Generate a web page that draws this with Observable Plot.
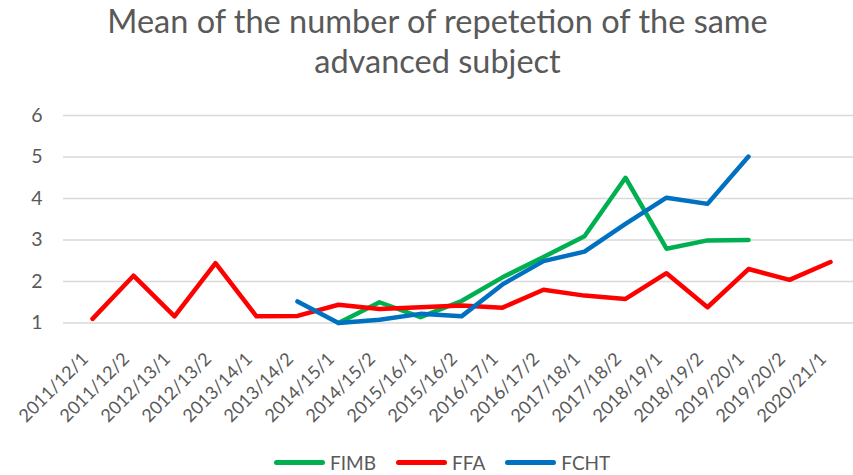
<!DOCTYPE html>
<html>
<head>
<meta charset="utf-8">
<script src="https://cdn.jsdelivr.net/npm/d3@7"></script>
<script src="https://cdn.jsdelivr.net/npm/@observablehq/plot@0.6"></script>
<style>
  html, body { margin: 0; padding: 0; background: #fff; }
  body { width: 853px; height: 475px; overflow: hidden; font-family: Lato, "Open Sans", sans-serif; color: #595959; }
  #title { height: 80px; text-align: center; font-size: 32.5px; line-height: 40px; padding-top: 1px; padding-left: 22px; box-sizing: border-box; }
  #legend { height: 44px; display: flex; align-items: center; padding-left: 274px; font-size: 19px; }
  .item { display: flex; align-items: center; margin-right: 20px; }
  .sw { width: 51px; height: 5px; border-radius: 3px; margin-right: 5px; }
</style>
</head>
<body>
<div id="title">Mean of the number of repetetion of the same<br>advanced subject</div>
<div id="chart"></div>
<div id="legend"></div>
<script>
const categories = ["2011/12/1","2011/12/2","2012/13/1","2012/13/2","2013/14/1","2013/14/2","2014/15/1","2014/15/2","2015/16/1","2015/16/2","2016/17/1","2016/17/2","2017/18/1","2017/18/2","2018/19/1","2018/19/2","2019/20/1","2019/20/2","2020/21/1"];
const FIMB = [null,null,null,null,null,null,1.0,1.50,1.14,1.53,2.10,2.59,3.09,4.50,2.79,2.99,3.00,null,null];
const FFA  = [1.10,2.14,1.16,2.44,1.16,1.17,1.44,1.34,1.38,1.42,1.37,1.80,1.66,1.58,2.20,1.38,2.30,2.04,2.47];
const FCHT = [null,null,null,null,null,1.52,1.00,1.08,1.22,1.16,1.93,2.49,2.72,3.39,4.02,3.87,5.01,null,null];
const yTicks = [1,2,3,4,5,6];
const seriesNames = ["FIMB","FFA","FCHT"];
const seriesColors = ["#00b050","#ff0000","#0070c0"];

const seriesValues = [FIMB, FFA, FCHT];
const rows = [];
seriesNames.forEach((s, i) => {
  categories.forEach((c, j) => {
    const v = seriesValues[i][j];
    if (v != null) rows.push({series: s, cat: c, value: v});
  });
});

const chart = Plot.plot({
  width: 853,
  height: 360,
  marginTop: 35,
  marginBottom: 117.5,
  marginLeft: 63,
  marginRight: 0,
  style: {fontFamily: "Lato, sans-serif", color: "#595959", background: "#fff"},
  x: {type: "point", domain: categories, range: [84, 837], padding: 0, axis: null},
  y: {domain: [1, 6], axis: null},
  color: {domain: seriesNames, range: seriesColors},
  marks: [
    Plot.ruleY(yTicks, {stroke: "#d9d9d9", strokeWidth: 1.5}),
    Plot.axisY(yTicks, {tickSize: 0, tickPadding: 21, fontSize: 19.5, fill: "#595959", label: null}),
    Plot.text(categories, {x: d => d, frameAnchor: "bottom", rotate: -45, textAnchor: "end", dx: -3, dy: 37, fontSize: 18, fill: "#595959"}),
    Plot.line(rows, {x: "cat", y: "value", z: "series", stroke: "series", strokeWidth: 4.5, strokeLinejoin: "round", strokeLinecap: "round"})
  ]
});
document.getElementById("chart").appendChild(chart);

const legend = document.getElementById("legend");
seriesNames.forEach((s, i) => {
  const item = document.createElement("div");
  item.className = "item";
  const sw = document.createElement("span");
  sw.className = "sw";
  sw.style.background = seriesColors[i];
  const t = document.createElement("span");
  t.textContent = s;
  item.appendChild(sw); item.appendChild(t);
  legend.appendChild(item);
});
</script>
</body>
</html>
